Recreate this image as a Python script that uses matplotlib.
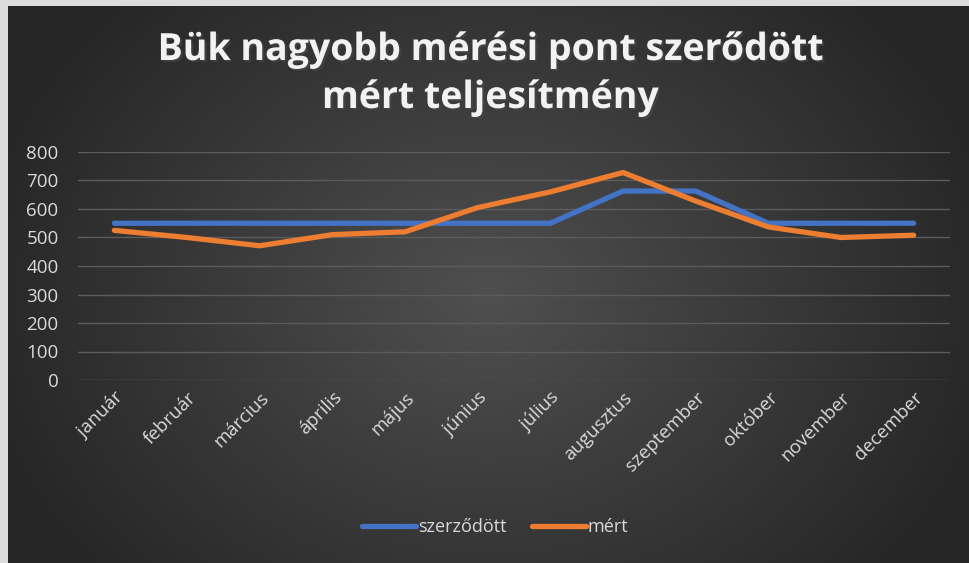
import numpy as np
import matplotlib.pyplot as plt
import matplotlib.patheffects as pe

# --- adatok ---
honapok = ['január', 'február', 'március', 'április', 'május', 'június',
           'július', 'augusztus', 'szeptember', 'október', 'november', 'december']
szerzodott = [550, 550, 550, 550, 550, 550, 550, 663, 663, 550, 550, 550]
mert = [525, 500, 471, 510, 520, 605, 660, 728, 628, 537, 500, 508]
y_ticks = [0, 100, 200, 300, 400, 500, 600, 700, 800]
cim_sorok = ['Bük nagyobb mérési pont szerődött', 'mért teljesítmény']

W, H = 969, 563
fig = plt.figure(figsize=(W / 100, H / 100), dpi=100)
fig.patch.set_facecolor('#dcdcdc')

# sötét, sugárirányú színátmenetes háttér (a keret bal/felső széle világos)
bg = fig.add_axes([8 / W, 0, 1 - 8 / W, 1 - 6 / H])
yy, xx = np.mgrid[0:557, 0:961]
r = np.sqrt(((xx - 480) / 520.0) ** 2 + ((yy - 290) / 420.0) ** 2)
shade = np.clip(0.31 - 0.16 * r, 0.15, 0.31)
bg.imshow(np.dstack([shade] * 3), aspect='auto', extent=[0, 1, 0, 1])
bg.set_axis_off()

ax = fig.add_axes([78 / W, (H - 380) / H, (950 - 78) / W, (380 - 152) / H])
ax.patch.set_alpha(0)
x = np.arange(len(honapok))
ax.plot(x, szerzodott, color='#4472C4', lw=3.8, solid_capstyle='round',
        solid_joinstyle='round', label='szerződött', zorder=3)
ax.plot(x, mert, color='#ED7D31', lw=3.8, solid_capstyle='round',
        solid_joinstyle='round', label='mért', zorder=4)

ax.set_xlim(-0.5, len(honapok) - 0.5)
ax.set_ylim(0, 800)
ax.set_yticks(y_ticks)
ax.grid(axis='y', color='#5c5c5c', lw=1)
ax.set_axisbelow(True)
for s in ax.spines.values():
    s.set_visible(False)
ax.tick_params(length=0, colors='#d9d9d9', labelsize=13.5)
ax.tick_params(axis='y', pad=14)
ax.tick_params(axis='x', pad=6)
ax.set_xticks(x)
ax.set_xticklabels(honapok, rotation=45, ha='right', rotation_mode='anchor',
                   fontfamily='Open Sans')
for lab in ax.get_yticklabels():
    lab.set_fontfamily('Open Sans')

arnyek = [pe.withSimplePatchShadow(offset=(1.5, -1.5), alpha=0.6)]
for sor, yp in zip(cim_sorok, [50, 98]):
    fig.text(490 / W, 1 - yp / H, sor, ha='center', va='center', color='#f2f2f2',
             fontsize=27, fontweight='bold', fontfamily='Open Sans',
             path_effects=arnyek)

leg = ax.legend(loc='center', bbox_to_anchor=(495 / W, 1 - 527 / H),
                bbox_transform=fig.transFigure, ncol=2, frameon=False,
                handlelength=3.0, handletextpad=0.1, columnspacing=1.4,
                prop={'family': 'Open Sans', 'size': 13})
for t in leg.get_texts():
    t.set_color('#d9d9d9')

fig.savefig('out.png', dpi=100, facecolor=fig.get_facecolor())
